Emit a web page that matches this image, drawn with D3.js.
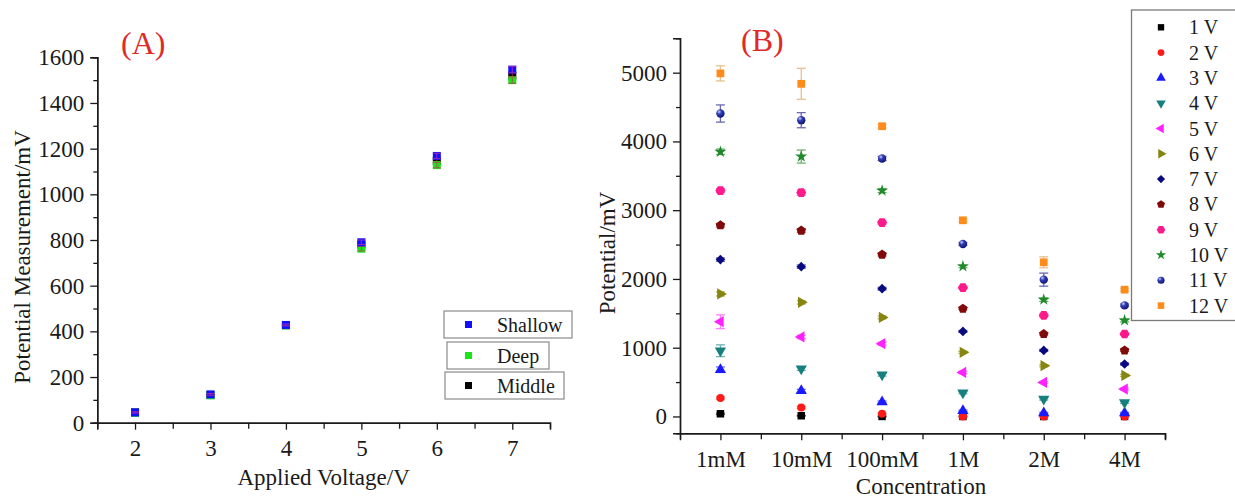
<!DOCTYPE html>
<html>
<head>
<meta charset="utf-8">
<script src="https://cdn.jsdelivr.net/npm/d3@7/dist/d3.min.js"></script>
<style>
  html, body { margin: 0; padding: 0; background: #fff; }
  svg { display: block; }
  text { font-family: "Liberation Serif", "Times New Roman", serif; fill: #1a1a1a; }
</style>
</head>
<body>
<svg id="chart" width="1235" height="498"></svg>
<script>
// ---- Panel A: potential vs applied voltage at three depths ----
const appliedVoltage = [2, 3, 4, 5, 6, 7];
const shallow = [45, 124, 428, 790, 1168, 1546];
const deep = [44, 120, 426, 762, 1128, 1500];
const middle = [45, 121, 427, 780, 1146, 1520];
const shallowErr = [3, 4, 4, 10, 12, 14];
const deepErr = [3, 4, 4, 10, 12, 14];
const middleErr = [3, 4, 4, 10, 12, 14];
const yTicksA = [0, 200, 400, 600, 800, 1000, 1200, 1400, 1600];

// ---- Panel B: potential vs concentration for 1-12 V ----
const concentrations = ["1mM", "10mM", "100mM", "1M", "2M", "4M"];
const seriesNames = ["1 V", "2 V", "3 V", "4 V", "5 V", "6 V", "7 V", "8 V", "9 V", "10 V", "11 V", "12 V"];
const v1 = [39, 10, 0, 0, 0, 0];
const v2 = [268, 131, 39, 0, 0, 0];
const v3 = [680, 374, 210, 83, 49, 49];
const v4 = [956, 694, 607, 345, 253, 204];
const v5 = [1378, 1156, 1058, 641, 495, 399];
const v6 = [1782, 1660, 1441, 932, 738, 597];
const v7 = [2281, 2179, 1859, 1237, 961, 763];
const v8 = [2780, 2703, 2354, 1568, 1199, 961];
const v9 = [3285, 3256, 2820, 1873, 1470, 1199];
const v10 = [3849, 3780, 3285, 2183, 1699, 1397];
const v11 = [4406, 4309, 3751, 2509, 1990, 1616];
const v12 = [4990, 4838, 4221, 2853, 2242, 1844];
const e1 = [10, 5, 5, 5, 5, 5];
const e2 = [15, 15, 10, 5, 5, 5];
const e3 = [40, 20, 15, 10, 10, 10];
const e4 = [85, 25, 20, 15, 15, 15];
const e5 = [100, 25, 20, 15, 15, 15];
const e6 = [30, 25, 20, 15, 15, 15];
const e7 = [25, 25, 20, 15, 15, 15];
const e8 = [25, 25, 20, 15, 15, 15];
const e9 = [30, 40, 25, 20, 20, 15];
const e10 = [40, 95, 30, 20, 25, 20];
const e11 = [125, 110, 30, 20, 95, 20];
const e12 = [110, 225, 25, 20, 80, 20];
const yTicksB = [0, 1000, 2000, 3000, 4000, 5000];

const svg = d3.select("#chart");
svg.append("rect").attr("width", 1235).attr("height", 498).attr("fill", "#fff");

const defs = svg.append("defs");
const grad = defs.append("radialGradient").attr("id", "sphere")
  .attr("cx", "35%").attr("cy", "30%").attr("r", "75%");
grad.append("stop").attr("offset", "0%").attr("stop-color", "#c8d4ff");
grad.append("stop").attr("offset", "35%").attr("stop-color", "#3440b8");
grad.append("stop").attr("offset", "100%").attr("stop-color", "#0b0f6a");

const tickFont = 23;

function styleAxis(g) {
  g.selectAll(".domain").attr("stroke", "#1a1a1a").attr("stroke-width", 1.4);
  g.selectAll(".tick line").attr("stroke", "#1a1a1a").attr("stroke-width", 1.3);
  g.selectAll(".tick text").attr("font-size", tickFont)
    .attr("font-family", "'Liberation Serif', 'Times New Roman', serif").attr("fill", "#1a1a1a");
}

// ================= Panel A =================
const A = { left: 97.3, right: 550, top: 57.3, bottom: 422.7 };
const xA = d3.scaleLinear().domain([1.5, 7.5]).range([A.left, A.right]);
const yA = d3.scaleLinear().domain([0, 1600]).range([A.bottom, A.top]);

const gA = svg.append("g");
// minor ticks
gA.append("g").attr("transform", `translate(0,${A.bottom})`)
  .call(d3.axisBottom(xA).tickValues([2.5, 3.5, 4.5, 5.5, 6.5]).tickSize(6).tickFormat(""))
  .call(styleAxis);
gA.append("g").attr("transform", `translate(${A.left},0)`)
  .call(d3.axisLeft(yA).tickValues(d3.range(100, 1600, 200)).tickSize(4).tickFormat(""))
  .call(styleAxis);
// major ticks and labels
gA.append("g").attr("transform", `translate(0,${A.bottom})`)
  .call(d3.axisBottom(xA).tickValues(appliedVoltage).tickSize(7).tickPadding(10).tickFormat(d3.format("d")))
  .call(styleAxis);
gA.append("g").attr("transform", `translate(${A.left},0)`)
  .call(d3.axisLeft(yA).tickValues(yTicksA).tickSize(7).tickPadding(6).tickFormat(d3.format("d")))
  .call(styleAxis);

gA.append("text").attr("x", (A.left + A.right) / 2).attr("y", 485)
  .attr("text-anchor", "middle").attr("font-size", 23).text("Applied Voltage/V");
gA.append("text").attr("transform", `translate(30,${(A.top + A.bottom) / 2 + 17}) rotate(-90)`)
  .attr("text-anchor", "middle").attr("font-size", 23).text("Potential Measurement/mV");
gA.append("text").attr("x", 121).attr("y", 54).attr("font-size", 32)
  .style("fill", "#e02a2a").text("(A)");

const seriesA = [
  { name: "Middle", values: middle, err: middleErr, color: "#000000", errColor: "#d0305a" },
  { name: "Deep", values: deep, err: deepErr, color: "#19e619", errColor: "#d0305a" },
  { name: "Shallow", values: shallow, err: shallowErr, color: "#1010ff", errColor: "#c8309a" }
];
seriesA.forEach(s => {
  const g = gA.append("g");
  appliedVoltage.forEach((v, i) => {
    const x = xA(v), y0 = yA(s.values[i] - s.err[i]), y1 = yA(s.values[i] + s.err[i]);
    g.append("rect").attr("x", x - 4).attr("y", yA(s.values[i]) - 4)
      .attr("width", 8).attr("height", 8).attr("fill", s.color);
    // error bars drawn over the marker
    g.append("line").attr("x1", x).attr("x2", x).attr("y1", y0).attr("y2", y1)
      .attr("stroke", s.errColor).attr("stroke-width", 1).attr("opacity", 0.75);
    [y0, y1].forEach(yy => g.append("line").attr("x1", x - 4).attr("x2", x + 4)
      .attr("y1", yy).attr("y2", yy).attr("stroke", s.errColor).attr("stroke-width", 1).attr("opacity", 0.75));
  });
});

// legend A: three separate boxes
const legendA = [
  { name: "Shallow", color: "#1010ff", box: [444, 311, 128, 27] },
  { name: "Deep", color: "#19e619", box: [447, 342, 102, 27] },
  { name: "Middle", color: "#000000", box: [445, 372, 119, 27] }
];
legendA.forEach(l => {
  const [bx, by, bw, bh] = l.box;
  gA.append("rect").attr("x", bx).attr("y", by).attr("width", bw).attr("height", bh)
    .attr("fill", "#fff").attr("stroke", "#8a8a8a").attr("stroke-width", 1.2);
  gA.append("rect").attr("x", 465).attr("y", by + bh / 2 - 3.5).attr("width", 7).attr("height", 7)
    .attr("fill", l.color);
  gA.append("text").attr("x", 497).attr("y", by + bh / 2 + 7).attr("font-size", 20).text(l.name);
});

// ================= Panel B =================
const B = { left: 680, right: 1165, top: 38.3, bottom: 433.3 };
const xB = d3.scaleLinear().domain([0.5, 6.5]).range([B.left, B.right]);
const yB = d3.scaleLinear().domain([-245, 5500]).range([B.bottom, B.top]);

const gB = svg.append("g");
gB.append("g").attr("transform", `translate(0,${B.bottom})`)
  .call(d3.axisBottom(xB).tickValues([1.5, 2.5, 3.5, 4.5, 5.5, 6.5]).tickSize(6).tickFormat(""))
  .call(styleAxis);
gB.append("g").attr("transform", `translate(${B.left},0)`)
  .call(d3.axisLeft(yB).tickValues(d3.range(500, 5500, 1000)).tickSize(4).tickFormat(""))
  .call(styleAxis);
gB.append("g").attr("transform", `translate(0,${B.bottom})`)
  .call(d3.axisBottom(xB).tickValues(d3.range(1, 7)).tickSize(7).tickPadding(10)
    .tickFormat(d => concentrations[d - 1]))
  .call(styleAxis);
gB.append("g").attr("transform", `translate(${B.left},0)`)
  .call(d3.axisLeft(yB).tickValues(yTicksB).tickSize(7).tickPadding(6).tickFormat(d3.format("d")))
  .call(styleAxis);

gB.append("text").attr("x", 921).attr("y", 494).attr("text-anchor", "middle")
  .attr("font-size", 23).text("Concentration");
gB.append("text").attr("transform", `translate(615,253) rotate(-90)`)
  .attr("text-anchor", "middle").attr("font-size", 23).text("Potential/mV");
gB.append("text").attr("x", 741).attr("y", 51).attr("font-size", 32)
  .style("fill", "#e02a2a").text("(B)");

function polygonPath(n, r, rot) {
  const pts = d3.range(n).map(k => {
    const a = rot + k * 2 * Math.PI / n;
    return [r * Math.cos(a), r * Math.sin(a)];
  });
  return "M" + pts.map(p => p.join(",")).join("L") + "Z";
}
const sym = (type, size) => d3.symbol().type(type).size(size)();
const seriesB = [
  { values: v1, err: e1, color: "#000000", errColor: "#555", path: sym(d3.symbolSquare, 56) },
  { values: v2, err: e2, color: "#ff1a1a", errColor: "#ff7070", path: sym(d3.symbolCircle, 50) },
  { values: v3, err: e3, color: "#1a1aff", errColor: "#7070ff", path: sym(d3.symbolTriangle, 55) },
  { values: v4, err: e4, color: "#16807f", errColor: "#6fb0b0", path: sym(d3.symbolTriangle, 55), rot: 180 },
  { values: v5, err: e5, color: "#ff22ff", errColor: "#ff80ff", path: sym(d3.symbolTriangle, 55), rot: -90 },
  { values: v6, err: e6, color: "#85850f", errColor: "#b5b560", path: sym(d3.symbolTriangle, 55), rot: 90 },
  { values: v7, err: e7, color: "#0a0a80", errColor: "#6a6ab0", path: sym(d3.symbolSquare, 46), rot: 45 },
  { values: v8, err: e8, color: "#800a0a", errColor: "#b06a6a", path: polygonPath(5, 5, -Math.PI / 2) },
  { values: v9, err: e9, color: "#ff1a8c", errColor: "#ff80c0", path: polygonPath(6, 5, 0) },
  { values: v10, err: e10, color: "#1f8a2a", errColor: "#70b070", path: sym(d3.symbolStar, 45) },
  { values: v11, err: e11, color: "url(#sphere)", errColor: "#6a6ab0", path: sym(d3.symbolCircle, 55) },
  { values: v12, err: e12, color: "#ff8c1a", errColor: "#e8c090", path: sym(d3.symbolSquare, 60) }
];

seriesB.forEach(s => {
  const g = gB.append("g");
  s.values.forEach((v, i) => {
    const x = xB(i + 1), y0 = yB(v - s.err[i]), y1 = yB(v + s.err[i]);
    g.append("line").attr("x1", x).attr("x2", x).attr("y1", y0).attr("y2", y1)
      .attr("stroke", s.errColor).attr("stroke-width", 1.3);
    [y0, y1].forEach(yy => g.append("line").attr("x1", x - 4.5).attr("x2", x + 4.5)
      .attr("y1", yy).attr("y2", yy).attr("stroke", s.errColor).attr("stroke-width", 1.3));
    g.append("path").attr("d", s.path)
      .attr("transform", `translate(${x},${yB(v)}) rotate(${s.rot || 0})`)
      .attr("fill", s.color);
  });
});

// legend B (box runs past the right edge)
const lg = gB.append("g");
lg.append("rect").attr("x", 1131.5).attr("y", 10).attr("width", 120).attr("height", 310.5)
  .attr("fill", "#fff").attr("stroke", "#7a7a7a").attr("stroke-width", 1.3);
seriesB.forEach((s, i) => {
  const y = 27.3 + i * 25.3;
  lg.append("path").attr("d", s.path)
    .attr("transform", `translate(1161,${y}) rotate(${s.rot || 0}) scale(0.85)`)
    .attr("fill", s.color);
  lg.append("text").attr("x", 1189).attr("y", y + 7).attr("font-size", 20).text(seriesNames[i]);
});
</script>
</body>
</html>
